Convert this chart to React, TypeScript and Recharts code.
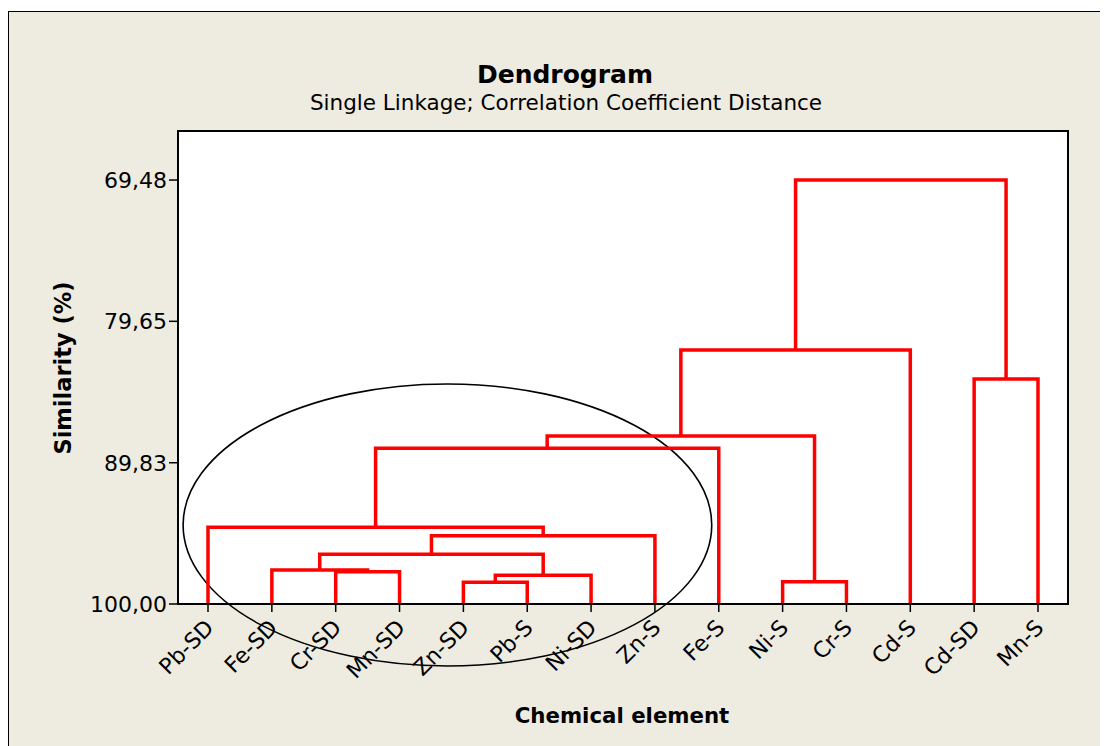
import { CartesianGrid, ComposedChart, Line, ReferenceArea, XAxis, YAxis } from 'recharts';

// leaf order along the x axis
const leaves = ['Pb-SD', 'Fe-SD', 'Cr-SD', 'Mn-SD', 'Zn-SD', 'Pb-S', 'Ni-SD', 'Zn-S', 'Fe-S', 'Ni-S', 'Cr-S', 'Cd-S', 'Cd-SD', 'Mn-S'];

// merge steps: ids 0-13 are leaves, step k creates cluster 14 + k
const mergeA = [4, 9, 14, 2, 1, 18, 19, 0, 21, 22, 12, 23, 25];
const mergeB = [5, 10, 6, 3, 17, 16, 7, 20, 8, 15, 13, 11, 24];
const mergeSim = [98.44, 98.39, 97.93, 97.67, 97.55, 96.42, 95.08, 94.48, 88.79, 87.91, 83.8, 81.72, 69.48];

const simTicks = [69.48, 79.65, 89.83, 100];

// hand drawn ring around the sediment group (data units)
const ringX = [0.61, 8.89];
const ringY = [84.16, 104.46];

const RED = '#ff0000';
const BG = '#eeebe1';
const FONT = '"DejaVu Sans", Verdana, sans-serif';

type Pt = { x: number; y: number };

function buildLinks(): Pt[][] {
  const pos = leaves.map((_, i) => i + 1);
  const height = leaves.map(() => 100);
  return mergeSim.map((s, k) => {
    const a = mergeA[k];
    const b = mergeB[k];
    const pts = [
      { x: pos[a], y: height[a] },
      { x: pos[a], y: s },
      { x: pos[b], y: s },
      { x: pos[b], y: height[b] },
    ];
    pos.push((pos[a] + pos[b]) / 2);
    height.push(s);
    return pts;
  });
}

const links = buildLinks();

const fmt = (v: number) => v.toFixed(2).replace('.', ',');

function LeafTick({ x, y, payload }: any) {
  const tx = x + 7;
  const ty = y + 15;
  return (
    <text x={tx} y={ty} transform={`rotate(-45, ${tx}, ${ty})`} textAnchor="end" fontSize={22} fill="#000">
      {leaves[payload.value - 1]}
    </text>
  );
}

function Ring(props: any) {
  const { x, y, width, height } = props;
  return (
    <ellipse cx={x + width / 2} cy={y + height / 2} rx={width / 2} ry={height / 2} fill="none" stroke="#000" strokeWidth={1.6} />
  );
}

export default function App() {
  return (
    <div
      style={{
        position: 'relative',
        marginTop: 3,
        width: 1100,
        height: 735,
        boxSizing: 'border-box',
        background: BG,
        borderTop: '1px solid #000',
        borderLeft: '1px solid #000',
        fontFamily: FONT,
        color: '#000',
      }}
    >
      <div style={{ position: 'absolute', left: 556, top: 50, transform: 'translateX(-50%)', fontSize: 25, lineHeight: '25px', fontWeight: 700, whiteSpace: 'nowrap' }}>
        Dendrogram
      </div>
      <div style={{ position: 'absolute', left: 557, top: 80, transform: 'translateX(-50%)', fontSize: 21.5, lineHeight: '21.5px', whiteSpace: 'nowrap' }}>
        Single Linkage; Correlation Coefficient Distance
      </div>
      <div
        style={{
          position: 'absolute',
          left: 54,
          top: 356,
          transform: 'translate(-50%, -50%) rotate(-90deg)',
          fontSize: 22.5,
          lineHeight: '22px',
          fontWeight: 700,
          whiteSpace: 'nowrap',
        }}
      >
        Similarity (%)
      </div>
      <div style={{ position: 'absolute', left: 613, top: 693, transform: 'translateX(-50%)', fontSize: 21.3, lineHeight: '21px', fontWeight: 700, whiteSpace: 'nowrap' }}>
        Chemical element
      </div>
      <div style={{ position: 'absolute', left: 0, top: 0 }}>
        <ComposedChart width={1099} height={723} margin={{ top: 119, right: 40, bottom: 31, left: 69 }}>
          <CartesianGrid horizontal={false} vertical={false} fill="#fff" stroke="none" />
          <XAxis
            type="number"
            dataKey="x"
            domain={[0.53, 14.47]}
            ticks={leaves.map((_, i) => i + 1)}
            tick={<LeafTick />}
            tickSize={8}
            height={100}
            axisLine={{ stroke: '#000', strokeWidth: 2 }}
            tickLine={{ stroke: '#000', strokeWidth: 1.5 }}
            interval={0}
          />
          <YAxis
            type="number"
            domain={[65.95, 100]}
            reversed
            ticks={simTicks}
            tickFormatter={fmt}
            tickSize={9}
            width={100}
            tick={{ fill: '#000', fontSize: 22 }}
            axisLine={{ stroke: '#000', strokeWidth: 2 }}
            tickLine={{ stroke: '#000', strokeWidth: 1.5 }}
            interval={0}
          />
          <ReferenceArea x1={0.53} x2={14.47} y1={65.95} y2={100} fill="none" stroke="#000" strokeWidth={2} />
          {links.map((pts, i) => (
            <Line
              key={i}
              data={pts}
              dataKey="y"
              type="linear"
              stroke={RED}
              strokeWidth={3.5}
              dot={false}
              activeDot={false}
              isAnimationActive={false}
              strokeLinejoin="miter"
            />
          ))}
          <ReferenceArea x1={ringX[0]} x2={ringX[1]} y1={ringY[0]} y2={ringY[1]} ifOverflow="visible" shape={<Ring />} />
        </ComposedChart>
      </div>
    </div>
  );
}
